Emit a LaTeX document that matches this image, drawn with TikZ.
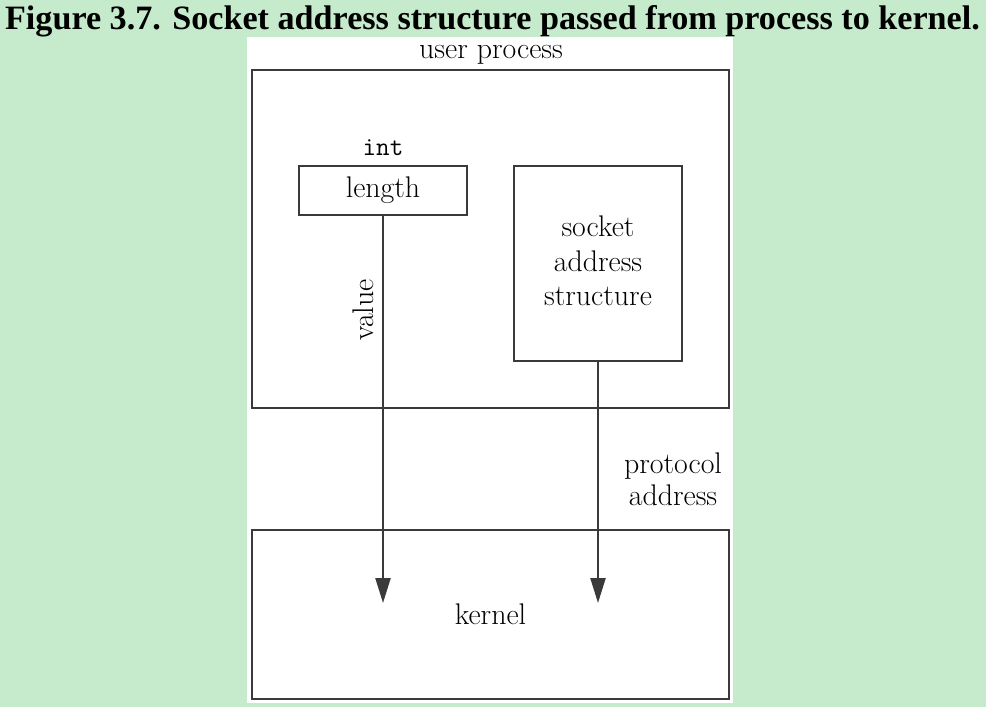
\documentclass[tikz,border=0pt]{standalone}
\usepackage{fontspec}
\newfontfamily\titlefont{Liberation Serif}
\usetikzlibrary{arrows.meta}

\definecolor{pagegreen}{HTML}{C6EBCC}
\definecolor{linegray}{HTML}{3A3A3A}

\tikzset{
  box/.style={draw=linegray, line width=1.2pt, inner sep=0pt, font=\fontsize{17}{19.6}\selectfont},
  lbl/.style={inner sep=0pt, font=\fontsize{17}{18.5}\selectfont, align=center},
  flow/.style={draw=linegray, line width=1.3pt, -{Triangle[length=0.5cm,width=0.3cm]}}
}

\begin{document}
\begin{tikzpicture}[x=0.02cm, y=-0.02cm]

% --- Background and panel ---
\useasboundingbox (0,0) rectangle (986,707);
\fill[pagegreen] (0,0) rectangle (986,707);
\fill[white] (247,37) rectangle (733,703);

% --- Title ---
\node[anchor=base, inner sep=0pt, font=\titlefont\bfseries\fontsize{20}{24}\selectfont]
  (title) at (492.5,29) {\resizebox{19.5cm}{!}{Figure 3.7. Socket address structure passed from process to kernel.}};

% --- Process and kernel ---
\node[box, minimum width=9.54cm, minimum height=6.76cm] (proc) at (490.5,239) {};
\node[box, minimum width=9.54cm, minimum height=3.38cm] (kernel) at (490.5,614.5) {kernel};
\node[lbl, anchor=base] (proclbl) at (491,58) {user process};

% --- Length and socket address structure ---
\node[box, minimum width=3.36cm, minimum height=0.98cm] (len) at (383,190.5) {length};
\node[lbl, anchor=base, font=\ttfamily\fontsize{15}{17}\selectfont] (intlbl) at (383,155) {int};
\node[box, minimum width=3.36cm, minimum height=3.9cm, align=center] (sock) at (598,263.5) {};
\node[lbl, font=\fontsize{17}{19.6}\selectfont] (socklbl) at (598,261) {socket\\address\\structure};

% --- Arrows ---
\coordinate (lenend) at (383,603);
\coordinate (sockend) at (598,603);
\draw[flow] (len.south) -- (lenend);
\draw[flow] (sock.south) -- (sockend);

% Labels
\node[lbl, rotate=90] (vallbl) at (363,310) {value};
\node[lbl] (protolbl) at (673,479) {protocol\\address};

\end{tikzpicture}
\end{document}
